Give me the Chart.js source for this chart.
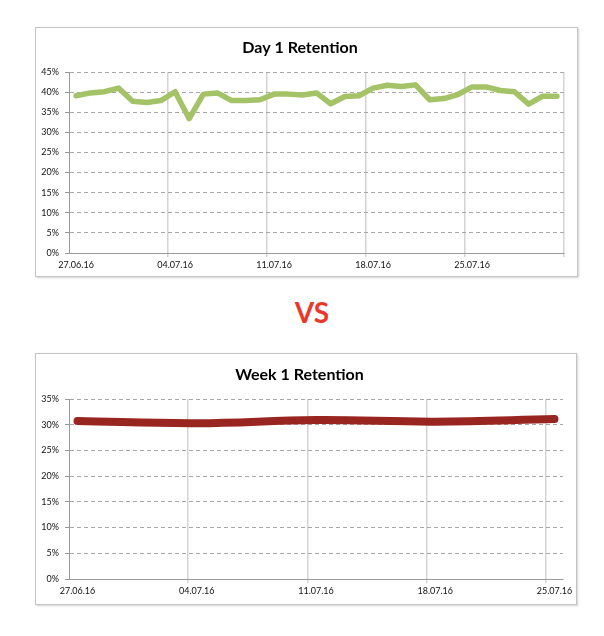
<!DOCTYPE html>
<html>
<head>
<meta charset="utf-8">
<script src="https://cdn.jsdelivr.net/npm/chart.js@4"></script>
<style>
body { margin: 0; background: #fff; width: 604px; height: 636px; position: relative; font-family: Lato, sans-serif; }
.box { position: absolute; border: 1px solid #c4c4c4; box-shadow: 1px 1px 2px rgba(0,0,0,0.18); background: #fff; }
#box1 { left: 35px; top: 27px; width: 541px; height: 248px; }
#box2 { left: 35px; top: 353px; width: 540px; height: 250px; }
#vs { position: absolute; left: 0; width: 624px; top: 294px; text-align: center; font: 700 28px Lato, sans-serif; color: #e8392c; line-height: 36px; }
</style>
</head>
<body>
<div class="box" id="box1"><canvas id="dayChart"></canvas></div>
<div id="vs">VS</div>
<div class="box" id="box2"><canvas id="weekChart"></canvas></div>
<script>
// daily labels 27.06 - 31.07
const dayLabels = ['27.06.16','28.06.16','29.06.16','30.06.16','01.07.16','02.07.16','03.07.16',
    '04.07.16','05.07.16','06.07.16','07.07.16','08.07.16','09.07.16','10.07.16',
    '11.07.16','12.07.16','13.07.16','14.07.16','15.07.16','16.07.16','17.07.16',
    '18.07.16','19.07.16','20.07.16','21.07.16','22.07.16','23.07.16','24.07.16',
    '25.07.16','26.07.16','27.07.16','28.07.16','29.07.16','30.07.16','31.07.16'];
const day1Retention = [39.1, 39.8, 40.1, 41.0, 37.7, 37.4, 37.9,
    40.1, 33.4, 39.5, 39.8, 37.9, 37.9, 38.1,
    39.5, 39.5, 39.3, 39.8, 37.1, 38.9, 39.1,
    41.0, 41.7, 41.4, 41.8, 38.1, 38.4, 39.4,
    41.3, 41.3, 40.4, 40.1, 37.0, 39.0, 39.0];

// week chart axis runs by day, values only once a week
const weekAxisLabels = dayLabels.slice(0, 29);
const weekDates = ['27.06.16', '04.07.16', '11.07.16', '18.07.16', '25.07.16'];
const week1Retention = [30.7, 30.3, 30.9, 30.6, 31.1];

const dayTicks = [0, 5, 10, 15, 20, 25, 30, 35, 40, 45];
const weekTicks = [0, 5, 10, 15, 20, 25, 30, 35];

function weekLine(ctx) {
    const idx = ctx.tick ? ctx.index : ctx.scale.ticks.length;
    return (idx > 0 && idx % 7 === 0) ? '#d4d4d4' : 'rgba(0,0,0,0)';
}

function makeOptions(title, yMax, padTop, padBottom, xHeight) {
    return {
        responsive: true,
        maintainAspectRatio: false,
        animation: false,
        layout: { padding: { left: 0, right: 13, top: 0, bottom: 0 } },
        plugins: {
            legend: { display: false },
            tooltip: { enabled: false },
            title: {
                display: true,
                text: title,
                color: '#000',
                font: { family: 'Lato', size: 16, weight: 'bold', lineHeight: 1.2 },
                padding: { top: padTop, bottom: padBottom }
            }
        },
        scales: {
            x: {
                offset: true,
                grid: { offset: true, color: weekLine, lineWidth: 1.5, tickLength: 4 },
                border: { color: '#9a9a9a', width: 1 },
                ticks: {
                    autoSkip: false,
                    maxRotation: 0,
                    padding: 3,
                    color: '#111',
                    font: { family: 'Lato', size: 9 },
                    callback: function (v, i) { return i % 7 === 0 ? this.getLabelForValue(v) : ''; }
                },
                afterFit: s => { s.height = xHeight; }
            },
            y: {
                min: 0,
                max: yMax,
                grid: { color: '#a8a8a8', lineWidth: 1, tickLength: 4, tickColor: '#9a9a9a' },
                border: { color: '#9a9a9a', width: 1, dash: [4, 3] },
                ticks: {
                    stepSize: 5,
                    padding: 6,
                    color: '#111',
                    font: { family: 'Lato', size: 9 },
                    callback: v => v + '%'
                },
                afterFit: s => { s.width = 33; }
            }
        }
    };
}

new Chart(document.getElementById('dayChart'), {
    type: 'line',
    data: {
        labels: dayLabels,
        datasets: [{
            data: day1Retention,
            borderColor: '#a4c266',
            borderWidth: 5.5,
            borderJoinStyle: 'round',
            borderCapStyle: 'round',
            pointRadius: 0,
            tension: 0
        }]
    },
    options: makeOptions('Day 1 Retention', dayTicks[dayTicks.length - 1], 10.4, 14.4, 23)
});

new Chart(document.getElementById('weekChart'), {
    type: 'line',
    data: {
        labels: weekAxisLabels,
        datasets: [{
            data: weekDates.map((d, i) => ({ x: d, y: week1Retention[i] })),
            borderColor: '#992520',
            borderWidth: 8,
            borderCapStyle: 'round',
            borderJoinStyle: 'round',
            pointRadius: 0,
            tension: 0.4
        }]
    },
    options: makeOptions('Week 1 Retention', weekTicks[weekTicks.length - 1], 11.4, 14.4, 25)
});
</script>
</body>
</html>
